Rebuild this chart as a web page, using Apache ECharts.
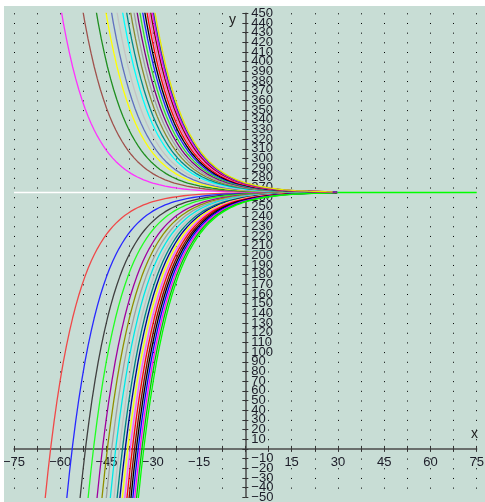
<!DOCTYPE html>
<html><head><meta charset="utf-8">
<script src="https://cdn.jsdelivr.net/npm/echarts@6/dist/echarts.min.js"></script>
<style>html,body{margin:0;background:#fff;width:485px;height:502px;overflow:hidden}#c{position:absolute;left:4px;top:6px;width:481px;height:496px}</style>
</head><body><div id="c"></div><script>
// Equilibrium level the families approach
const asymptote = 265;
// Reference horizontal lines at the equilibrium
const whiteLineX = [-75, 0];
const greenLineX = [0, 75];
// Shape of the leftmost curve: distance from the equilibrium, read along x
const profileX = [-66,-65,-64,-63,-62,-61,-60,-59,-58,-57,-56,-55,-54,-53,-52,-51,-50,-49,-48,-47,-46,-45,-44,-43,-42,-41,-40,-39,-38,-37,-36,-35,-34,-33,-32,-31,-30,
  -28,-26,-24,-22,-20,-18,-16,-14,-12,-10,-8,-6,-4,-2,0,2,4,6,8,10];
const profileD = [352.8,319.3,288.9,261.4,236.5,214.0,193.6,175.2,158.5,143.5,129.8,117.5,106.3,96.2,87.0,78.7,71.2,64.5,58.3,52.8,47.8,43.2,39.1,35.4,32.0,29.0,26.2,23.7,21.5,19.4,17.6,15.9,14.4,13.0,11.8,10.7,9.6,
  7.9,6.5,5.3,4.3,3.5,2.9,2.4,1.9,1.6,1.3,1.1,0.9,0.7,0.6,0.48,0.39,0.32,0.26,0.22,0.18];
const upperShifts = [0,7.0,11.3,14.4,16.2,18.0,19.8,21.1,22.4,23.5,24.5,25.4,26.3,27.0,27.7,28.3,28.9,29.4,29.8,30.3];
const lowerShifts = [0,7.0,11.3,13.9,16.8,18.4,19.8,21.1,22.3,23.3,24.2,25.0,25.8,26.5,27.2,27.8,28.4,29.0,29.6,30.2];
const upperColors = ['#ff30ff','#a0524d','#1f8f1f','#ffff00','#6070c0','#c4c4c4','#00ffff','#008b8b','#8a8a30','#a0a0a0','#800080','#30e030','#2020ff','#000000','#ff0000','#ff60c0','#8b0000','#ff00ff','#4040a0','#e8e800'];
const lowerColors = ['#f04848','#2828ff','#404040','#20ff20','#a000a0','#909000','#a0a0a0','#00e8e8','#c0c0c0','#008080','#000090','#ffff00','#ff50ff','#ff0000','#800000','#000000','#0000ff','#ff00ff','#00c000','#00ff00'];
const xMaxCurves = 30;
const xTicks = {min: -75, max: 75, step: 7.5, labelStep: 15};
const yTicks = {min: -50, max: 450, step: 10};

const W = 481, H = 496;
const grid = {left: 10, right: 8.3, top: 7.3, bottom: 4.7};
const gw = W - grid.left - grid.right, gh = H - grid.top - grid.bottom;
// place axes through the origin
const yAxisOffset = -gw * (0 - xTicks.min) / (xTicks.max - xTicks.min);
const xAxisOffset = -gh * (0 - yTicks.min) / (yTicks.max - yTicks.min);

function curve(shift, sign) {
  const pts = [];
  for (let i = 0; i < profileX.length; i++) {
    const x = profileX[i] + shift;
    if (x > xMaxCurves) break;
    pts.push([x, asymptote + sign * profileD[i]]);
  }
  return pts;
}
const minus = v => v < 0 ? '\u2212' + (-v) : String(v);
const series = [];
series.push({type:'line', data: whiteLineX.map(x => [x, asymptote]), showSymbol:false, lineStyle:{color:'#ffffff', width:1.5}, z:1});
series.push({type:'line', data: greenLineX.map(x => [x, asymptote]), showSymbol:false, lineStyle:{color:'#00ff00', width:1.5}, z:1});
lowerShifts.forEach((s, i) => series.push({type:'line', data: curve(s, -1), showSymbol:false, lineStyle:{color: lowerColors[i], width:1.3}}));
upperShifts.forEach((s, i) => series.push({type:'line', data: curve(s, 1), showSymbol:false, lineStyle:{color: upperColors[i], width:1.3}}));

const labelFont = {color: '#1c1c28', fontSize: 13, fontFamily: 'Liberation Sans'};
const isEnd = v => v === yTicks.min || v === yTicks.max;
const xBase = {type: 'value', min: xTicks.min, max: xTicks.max, interval: xTicks.step, position: 'bottom', offset: xAxisOffset};
const yBase = {type: 'value', min: yTicks.min, max: yTicks.max, interval: yTicks.step, position: 'left', offset: yAxisOffset};

const chart = echarts.init(document.getElementById('c'), null, {renderer:'canvas'});
chart.setOption({
  animation: false,
  backgroundColor: '#c8ddd5',
  grid: {left: grid.left, right: grid.right, top: grid.top, bottom: grid.bottom, containLabel: false, outerBoundsMode: 'none'},
  xAxis: [
    Object.assign({}, xBase, {
      axisLine: {onZero: false, lineStyle: {color: '#4a4a4a', width: 1.5}},
      axisTick: {show: true, length: 3, lineStyle: {color: '#333'}},
      axisLabel: Object.assign({show: true, margin: 7, showMinLabel: true, showMaxLabel: true, hideOverlap: false,
        formatter: v => (v === 0 || Math.abs(v % xTicks.labelStep) > 1e-9) ? '' : minus(v)}, labelFont),
      splitLine: {show: true, lineStyle: {color: '#000', width: 1, type: [1, 8.68]}}
    }),
    Object.assign({}, xBase, {
      axisLine: {show: false, onZero: false},
      axisTick: {show: true, inside: true, length: 3, lineStyle: {color: '#333'}},
      axisLabel: {show: false}, splitLine: {show: false}
    })
  ],
  yAxis: [
    Object.assign({}, yBase, {
      axisLine: {onZero: false, lineStyle: {color: '#4a4a4a', width: 1.5}},
      axisTick: {show: true, length: 3, lineStyle: {color: '#333'}},
      axisLabel: Object.assign({inside: true, margin: 6, showMinLabel: true, showMaxLabel: true, hideOverlap: false,
        formatter: v => (v === 0 || isEnd(v)) ? '' : minus(v)}, labelFont),
      splitLine: {show: false}
    }),
    Object.assign({}, yBase, {
      axisLine: {show: false, onZero: false},
      axisTick: {show: true, inside: true, length: 3, lineStyle: {color: '#333'}},
      axisLabel: Object.assign({inside: true, margin: 6, showMinLabel: true, showMaxLabel: true, hideOverlap: false,
        formatter: v => isEnd(v) ? minus(v) : ''}, labelFont),
      splitLine: {show: false}
    })
  ],
  graphic: [
    {type: 'text', left: 225, top: 7, style: {text: 'y', font: '14px Liberation Sans', fill: '#222'}},
    {type: 'text', left: 467, top: 421, style: {text: 'x', font: '14px Liberation Sans', fill: '#222'}}
  ],
  series: series
});
</script></body></html>
